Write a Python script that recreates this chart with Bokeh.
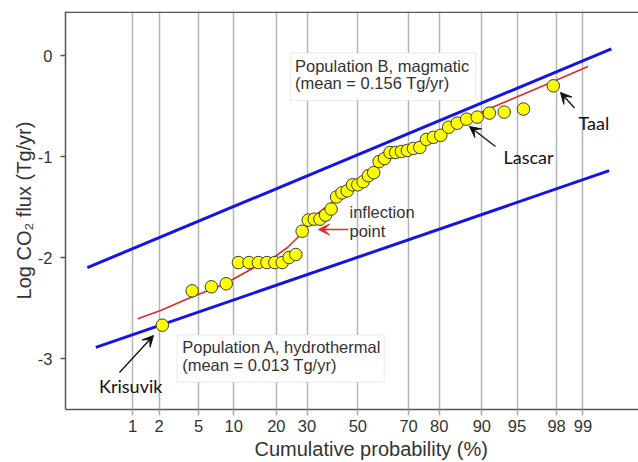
import math
from statistics import NormalDist
from bokeh.plotting import figure
from bokeh.models import (FixedTicker, Span, BoxAnnotation, Label, Arrow, VeeHead,
                          ColumnDataSource, Range1d, Title)
from bokeh.embed import file_html
from bokeh.resources import INLINE

ND = NormalDist()


def probit(pct):
    return ND.inv_cdf(pct / 100.0)


# ---------------- data ----------------
tick_pct = [1, 2, 5, 10, 20, 30, 50, 70, 80, 90, 95, 98, 99]
tick_labels = ["1", "2", "5", "10", "20", "30", "50", "70", "80", "90", "95", "98", "99"]
y_ticks = [0, -1, -2, -3]
y_tick_labels = ["0", "-1", "-2", "-3"]

cum_prob = [2.17, 4.35, 6.52, 8.70, 10.87, 13.04, 15.22, 17.39, 19.57, 21.74,
            23.91, 26.09, 28.26, 30.43, 32.61, 34.78, 36.96, 39.13, 41.30, 43.48,
            45.65, 47.83, 50.00, 52.17, 54.35, 56.52, 58.70, 60.87, 63.04, 65.22,
            67.39, 69.57, 71.74, 73.91, 76.09, 78.26, 80.43, 82.61, 84.78, 86.96,
            89.13, 91.30, 93.48, 95.65, 97.83]
log_flux = [-2.67, -2.33, -2.29, -2.26, -2.05, -2.05, -2.05, -2.05, -2.05, -2.05,
            -2.00, -1.97, -1.74, -1.63, -1.62, -1.62, -1.58, -1.52, -1.40, -1.36,
            -1.34, -1.28, -1.28, -1.25, -1.19, -1.16, -1.05, -1.02, -0.96, -0.96,
            -0.95, -0.94, -0.92, -0.91, -0.83, -0.81, -0.79, -0.71, -0.67, -0.63,
            -0.61, -0.57, -0.56, -0.53, -0.30]

# mixture fit (red curve)
fit_prob = [1.15, 2.08, 4.2, 8.27, 13.4, 19.2, 23.4, 26.7, 29.5, 33.1, 38.9, 44.9,
            51.1, 57.3, 63.2, 70.7, 77.4, 83.1, 87.8, 91.7, 95.4, 97.7, 99.13]
fit_flux = [-2.607, -2.525, -2.396, -2.267, -2.119, -2.000, -1.901, -1.802, -1.693,
            -1.584, -1.465, -1.356, -1.248, -1.109, -1.000, -0.901, -0.802, -0.703,
            -0.614, -0.515, -0.393, -0.267, -0.109]

# population lines
popB_prob = [0.26, 99.56]
popB_flux = [-2.10, 0.066]
popA_prob = [0.34, 99.53]
popA_flux = [-2.89, -1.14]

# ---------------- geometry ----------------
W, H = 638, 462
X_START, X_END = -3.02, 2.90
Y_START, Y_END = -3.505, 0.436
FL, FR, FT, FB = 65, 638, 11, 409   # frame edges in pixels


def px(xi):
    return X_START + (xi - FL) / (FR - FL) * (X_END - X_START)


def py(yi):
    return Y_END - (yi - FT) / (FB - FT) * (Y_END - Y_START)


AX = "Liberation Sans"
CAL = "Lato"
TXT = "#333333"

p = figure(width=W, height=H, output_backend="svg", toolbar_location=None,
           x_range=Range1d(X_START, X_END), y_range=Range1d(Y_START, Y_END),
           min_border_left=FL, min_border_right=W - FR, min_border_top=FT,
           min_border_bottom=H - FB)
p.outline_line_color = None
p.background_fill_color = "white"
p.border_fill_color = "white"

xt = [probit(t) for t in tick_pct]
p.xaxis.ticker = FixedTicker(ticks=xt)
p.xaxis.major_label_overrides = {v: l for v, l in zip(xt, tick_labels)}
p.yaxis.ticker = FixedTicker(ticks=y_ticks)
p.yaxis.major_label_overrides = {v: l for v, l in zip(y_ticks, y_tick_labels)}
p.xgrid.ticker = FixedTicker(ticks=xt)
p.xgrid.grid_line_color = "#b4b4b4"
p.xgrid.grid_line_width = 1.5
p.ygrid.grid_line_color = None

for ax in (p.xaxis[0], p.yaxis[0]):
    ax.axis_line_color = "#555555"
    ax.axis_line_width = 1.5
    ax.minor_tick_line_color = None
    ax.major_label_text_font = AX
    ax.major_label_text_font_size = "16.5px"
    ax.major_label_text_color = TXT
    ax.major_tick_in = 0

p.xaxis.major_tick_line_color = "#aaaaaa"
p.xaxis.major_tick_line_width = 1.5
p.xaxis.major_tick_out = 6
p.xaxis.major_label_standoff = 4
p.yaxis.major_tick_line_color = "#555555"
p.yaxis.major_tick_line_width = 1.5
p.yaxis.major_tick_out = 5
p.yaxis.major_label_standoff = 8

# axis titles (as Title panels so they can be positioned)
p.add_layout(Title(text="Cumulative probability (%)", align="left", offset=189,
                   text_font=AX, text_font_size="20px", text_font_style="normal",
                   text_color=TXT, standoff=3), "below")
p.add_layout(Title(text="Log CO\u2082 flux (Tg/yr)", align="center",
                   text_font=AX, text_font_size="20px", text_font_style="normal",
                   text_color=TXT, standoff=0), "left")

# top frame line
p.add_layout(Span(location=py(FT + 0.75), dimension="width", line_color="#555555",
                  line_width=1.5))

# boxes
p.add_layout(BoxAnnotation(left=px(290), right=px(475.3), top=py(52.3), bottom=py(100),
                           fill_color="white", fill_alpha=1, line_color="#c4c4c4",
                           line_width=1.2, level="underlay"))
p.add_layout(BoxAnnotation(left=px(176.7), right=px(383.7), top=py(334.3), bottom=py(381.7),
                           fill_color="white", fill_alpha=1, line_color="#c4c4c4",
                           line_width=1.2, level="underlay"))

# lines
p.line([probit(v) for v in popB_prob], popB_flux, line_color="#1414e6", line_width=3)
p.line([probit(v) for v in popA_prob], popA_flux, line_color="#1414e6", line_width=3)
p.line([probit(v) for v in fit_prob], fit_flux, line_color="#e62828", line_width=1.6)

src = ColumnDataSource(data=dict(z=[probit(v) for v in cum_prob], v=log_flux))
p.scatter("z", "v", source=src, size=12.5, fill_color="#ffff00", line_color="#3a3a3a",
          line_width=1)


def label(x, y, text, font=AX, size="16.5px", color=TXT, align="left"):
    p.add_layout(Label(x=px(x), y=py(y), text=text, text_font=font, text_font_size=size,
                       text_color=color, text_align=align, text_baseline="middle"))


def arrow(x0, y0, x1, y1, color):
    p.add_layout(Arrow(x_start=px(x0), y_start=py(y0), x_end=px(x1), y_end=py(y1),
                       line_color=color, line_width=1.3,
                       end=VeeHead(size=11, fill_color=color, line_color=color)))


label(294.5, 65.5, "Population B, magmatic")
label(294.5, 82.5, "(mean = 0.156 Tg/yr)")
label(181.7, 346.5, "Population A, hydrothermal")
label(181.7, 364, "(mean = 0.013 Tg/yr)")
label(349, 211.7, "inflection")
label(349, 230, "point")
label(98.5, 385.5, "Krisuvik", font=CAL, size="18px", color="#111111")
label(503, 156.7, "Lascar", font=CAL, size="18px", color="#111111")
label(578, 122, "Taal", font=CAL, size="18px", color="#111111")

arrow(119, 372, 153, 335, "#111111")
arrow(495, 146, 469, 126, "#111111")
arrow(574, 107.5, 560, 92, "#111111")
arrow(348, 229, 318, 229, "#e62828")

open("out.html", "w").write(file_html(p, INLINE))
